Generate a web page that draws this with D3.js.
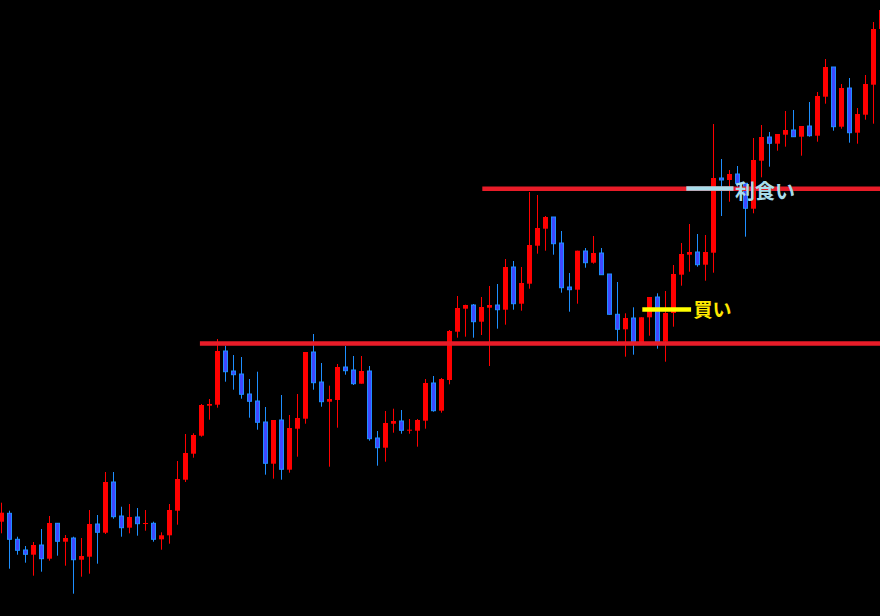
<!DOCTYPE html>
<html><head><meta charset="utf-8">
<script src="https://cdn.jsdelivr.net/npm/d3@7"></script>
<style>html,body{margin:0;padding:0;background:#000;overflow:hidden}</style>
</head><body><svg id="chart" width="880" height="616"></svg>
<script>
// OHLC candles (price units, arbitrary)
const opens  = [94.3,102.7,76.7,66,61.3,71,57.3,92.7,74.3,78,56.3,59.3,92,83.3,134,100,88.3,99,92.7,92.7,76.7,80.7,105.3,136.3,162.3,180.3,210.3,211.3,265,245,242,222,215,194,152.3,196,146.3,187.3,197.3,264,234,214.3,216,249,246,232.3,245,178,168.3,192.3,195,185.3,185.3,195.3,233,205.3,236,284.3,307.3,311,294.3,308.3,311,306.3,349,312.3,332.3,370.3,387.3,399,373,329,326.3,365,353.3,363,342,301.7,286.7,298,274,298.7,319,274.3,303,341.3,361.3,364,351.3,363.3,438,436,442,432.7,407.3,455.3,479,472.3,481.3,486,479.3,490,480.3,519.3,549,489.3,528,483.3,501.3,531.3,587];
const highs  = [113.3,105.3,79.3,70,74,87,100,93,81,79.3,78,106,101,144,144,109.3,112,108,106,94.3,83.7,112,155,182,182.7,212,217,277,270.3,261,259,237,244.3,209,196,221,201,222,264,282,253,230.3,252,270,260,260,250,185,205,207.3,206,197,197,237,240,238,286,320,311.3,312,319,330,332,357,355,349,424,421,400,399,385,343,365.3,368,380,368,342,334,302.7,308.7,298.7,319,322.7,325,351,373,392,382,381,492,457,446,450,432.7,478,491,484,482,505,506,490,514,524,557,549,532,538,508,541,594,611];
const lows   = [82.7,47.3,61.3,53.3,40.3,44.3,55.3,60.3,50.3,22.3,39.3,42.3,52.3,82,97.3,79.3,82.7,80.3,85.3,74.3,66.3,72.3,91.3,134,158.3,179.3,196.3,208.3,234.3,226.3,217.3,198.3,186.3,141.3,137.3,136.3,143.3,159.3,192.3,226.3,209.3,149.3,188.3,241.3,231,232.3,175.3,150.3,154.3,183.3,182.3,182.3,169.3,187.3,204.3,203.3,231.7,278.3,279.3,278.3,281,250,287.3,291.3,306.3,305.3,327.3,362.3,365.3,361.3,323.3,304.3,312.3,348.3,352.3,341.3,301.3,274.3,259.3,261.3,273.5,280.3,267.3,254.3,289.3,330.3,344.3,349.3,335.3,343.3,400,414.3,426,379.3,402.7,438.7,449.3,465.3,469.3,479.3,460.3,479.3,474.3,512.3,485.3,487.3,473.3,472.3,496.3,492.3,586];
const closes = [103.3,76.7,65.7,61.7,71,57.3,93,74.7,78,56.3,60,92,83.7,134,99.3,88.3,99,92.3,93,76.7,80.7,106,137,163,181,211,212,265,244.3,241.3,221.7,214.7,193.7,152.7,196,146.7,188,198,264,233.3,214.3,217,249,245.3,232.3,245,177.3,168.3,193,195,185.7,186.3,196,233,205.3,237,285,308,311,294.3,309,311,306.3,349,312.3,333,371,388,399,372.3,328.3,326.3,365.3,353.3,363,341.3,301.7,286.7,298,274.3,298.7,319,274.3,303,342,362,364,351.3,364,438,436,442,432.7,407.7,456,479,472.7,482,486,479.3,490,480.3,520,549,489.3,528,483.3,502,532,587,606];

// horizontal levels: [price, start index, end index]
const resistance = {price: 427.3, from: 60.1, to: 112};
const support    = {price: 272.5, from: 24.8, to: 112};
const buyMark    = {price: 306.5, from: 80.1, to: 86.2, label: "買い"};
const takeProfit = {price: 427.5, from: 85.6, to: 91.5, label: "利食い"};

const W = 880, H = 616;
const svg = d3.select("#chart");
svg.append("rect").attr("width", W).attr("height", H).attr("fill", "#000");

const x = d3.scaleLinear().domain([0, 110]).range([1.5, 881.5]);
const y = d3.scaleLinear().domain([0, 616]).range([616, 0]);

const data = opens.map((o, i) => ({i, o, h: highs[i], l: lows[i], c: closes[i]}));
const up = d => d.c >= d.o;
const RED = "#ff0000", BLUE_FILL = "#3f48ff", BLUE_EDGE = "#1e8fff";

const g = svg.append("g");
g.selectAll("line.wick").data(data).join("line")
  .attr("class", "wick")
  .attr("x1", d => x(d.i)).attr("x2", d => x(d.i))
  .attr("y1", d => y(d.h)).attr("y2", d => y(d.l))
  .attr("stroke", d => up(d) ? RED : BLUE_EDGE).attr("stroke-width", 1);

g.selectAll("rect.up").data(data.filter(up)).join("rect")
  .attr("class", "up")
  .attr("x", d => x(d.i) - 2.5).attr("width", 5)
  .attr("y", d => y(d.c)).attr("height", d => Math.max(1, y(d.o) - y(d.c)))
  .attr("fill", RED);

g.selectAll("rect.down").data(data.filter(d => !up(d))).join("rect")
  .attr("class", "down")
  .attr("x", d => x(d.i) - 2).attr("width", 4)
  .attr("y", d => y(d.o)).attr("height", d => Math.max(0.5, y(d.c) - y(d.o)))
  .attr("fill", BLUE_FILL).attr("stroke", BLUE_EDGE).attr("stroke-width", 1);

// level lines
const lvl = svg.append("g");
[support, resistance].forEach(L => {
  lvl.append("line")
    .attr("x1", x(L.from)).attr("x2", x(L.to))
    .attr("y1", y(L.price)).attr("y2", y(L.price))
    .attr("stroke", "#e81c28").attr("stroke-width", 4.5).attr("stroke-linecap", "butt");
});
lvl.append("line")
  .attr("x1", x(buyMark.from)).attr("x2", x(buyMark.to))
  .attr("y1", y(buyMark.price)).attr("y2", y(buyMark.price))
  .attr("stroke", "#ffff00").attr("stroke-width", 4.5).attr("stroke-linecap", "butt");
lvl.append("line")
  .attr("x1", x(takeProfit.from)).attr("x2", x(takeProfit.to))
  .attr("y1", y(takeProfit.price)).attr("y2", y(takeProfit.price))
  .attr("stroke", "#a8dcea").attr("stroke-width", 4.5).attr("stroke-linecap", "butt");

const font = "'Noto Sans CJK JP', 'Noto Sans', sans-serif";
lvl.append("text")
  .attr("x", x(buyMark.to) + 2.5).attr("y", y(buyMark.price) - 1)
  .attr("dominant-baseline", "central")
  .attr("font-family", font).attr("font-weight", "bold").attr("font-size", 19)
  .attr("fill", "#ffe800").text(buyMark.label);
lvl.append("text")
  .attr("x", x(takeProfit.to) + 1.5).attr("y", y(takeProfit.price) + 1.5)
  .attr("dominant-baseline", "central")
  .attr("font-family", font).attr("font-weight", "bold").attr("font-size", 20)
  .attr("fill", "#a8dcea").text(takeProfit.label);
</script></body></html>
